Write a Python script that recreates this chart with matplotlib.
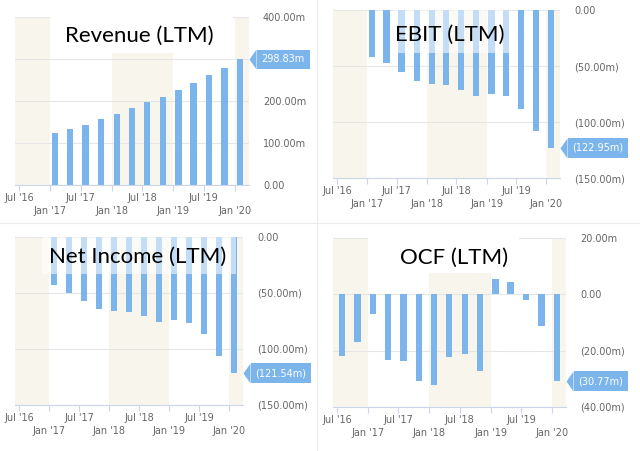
import matplotlib
matplotlib.use('Agg')
import matplotlib.pyplot as plt
import matplotlib.dates as mdates
from matplotlib.lines import Line2D
from matplotlib.patches import Rectangle
import pandas as pd

# fiscal quarter ends (FY ends Jan 31)
quarters = pd.to_datetime([
    '2016-07-31', '2016-10-31', '2017-01-31', '2017-04-30', '2017-07-31',
    '2017-10-31', '2018-01-31', '2018-04-30', '2018-07-31', '2018-10-31',
    '2019-01-31', '2019-04-30', '2019-07-31', '2019-10-31', '2020-01-31'])

revenue = [122.8, 133.0, 143.4, 156.0, 168.7, 183.8, 198.0, 210.0, 227.3,
           244.0, 262.0, 279.0, 298.83]
ebit = [-41.7, -47.7, -55.8, -63.0, -66.0, -67.4, -71.0, -76.6, -74.8,
        -77.2, -88.3, -108.0, -122.95]
net_income = [-43.0, -49.9, -57.0, -64.2, -66.5, -67.4, -70.4, -76.0, -74.3,
              -76.7, -86.2, -106.6, -121.54]
ocf = [-21.9, -16.9, -7.1, -23.2, -23.5, -30.7, -32.1, -22.3, -21.1, -27.3,
       5.4, 4.5, -1.9, -11.2, -30.77]

rev_ticks = [0, 100, 200, 300, 400]
neg_ticks = [0, -50, -100, -150]
ocf_ticks = [20, 0, -20, -40]

BAR = '#7cb5ec'
BAND = '#f8f6ec'
GRID = '#e6e6e6'
AXIS = '#ccd6eb'
LABEL = '#666666'

W, H = 640, 451
fig = plt.figure(figsize=(W / 100, H / 100), dpi=100)


def px_axes(l, t, r, b):
    return fig.add_axes([l / W, 1 - b / H, (r - l) / W, (b - t) / H])


def fmt_m(v):
    if abs(v) < 1e-9:
        return '0.00'
    if v < 0:
        return '(%.2fm)' % -v
    return '%.2fm' % v


def panel(ax, values, yticks, title, box, box_alpha, title_xy):
    dates = quarters[-len(values):]
    x0 = pd.Timestamp('2016-06-07')
    x1 = pd.Timestamp('2020-03-25')
    ax.set_xlim(x0, x1)
    ax.set_ylim(min(yticks), max(yticks))

    # alternating year bands
    for a, b in [(x0, pd.Timestamp('2017-01-01')),
                 (pd.Timestamp('2018-01-01'), pd.Timestamp('2019-01-01')),
                 (pd.Timestamp('2020-01-01'), x1)]:
        ax.axvspan(a, b, color=BAND, lw=0, zorder=0.2)

    ax.bar(dates, values, width=38, color=BAR, zorder=2)

    ax.set_axisbelow(True)
    ax.yaxis.grid(True, color=GRID, lw=0.8)
    for s in ['top', 'left', 'right']:
        ax.spines[s].set_visible(False)
    ax.spines['bottom'].set_color(AXIS)
    ax.spines['bottom'].set_linewidth(0.8)

    ax.xaxis.set_major_locator(mdates.MonthLocator(bymonth=7))
    ax.xaxis.set_minor_locator(mdates.MonthLocator(bymonth=1))
    ax.xaxis.set_major_formatter(mdates.DateFormatter("%b '%y"))
    ax.xaxis.set_minor_formatter(mdates.DateFormatter("%b '%y"))
    ax.tick_params(axis='x', which='both', length=4.3, width=0.8, color=AXIS,
                   labelsize=7, labelcolor=LABEL)
    ax.tick_params(axis='x', which='major', pad=1.5)
    ax.tick_params(axis='x', which='minor', pad=11)

    last = values[-1]
    span = max(yticks) - min(yticks)
    ax.yaxis.tick_right()
    ax.set_yticks(yticks)
    ax.set_yticklabels(['' if abs(t - last) < 0.06 * span else fmt_m(t)
                        for t in yticks])
    ax.tick_params(axis='y', length=0, pad=10, labelsize=7, labelcolor=LABEL)

    # flag with the latest value
    trans = ax.get_yaxis_transform()
    ax.plot([1.0], [last], transform=trans, marker=[(0, 0), (0.7, 1), (0.7, -1)],
            ms=14.4, color=BAR, mec='none', clip_on=False, zorder=5)
    ax.annotate(fmt_m(last), xy=(1.0, last), xycoords=trans, xytext=(9, 0),
                textcoords='offset points', ha='left', va='center',
                fontsize=7, color='white', annotation_clip=False, zorder=5,
                bbox=dict(boxstyle='square,pad=0.5', fc=BAR, ec='none'))

    # title overlay
    bx0, by0, bx1, by1 = box
    ax.add_patch(Rectangle((bx0, by0), bx1 - bx0, by1 - by0, transform=ax.transAxes,
                           fc='white', ec='none', alpha=box_alpha, zorder=3))
    ax.text(title_xy[0], title_xy[1], title, transform=ax.transAxes,
            ha='center', va='center', fontsize=16, family='Lato', zorder=4)


ax1 = px_axes(15, 17, 249, 185)
panel(ax1, revenue, rev_ticks, 'Revenue (LTM)', (0.15, 0.786, 0.93, 1.0), 1.0,
      (0.53, 0.89))

ax2 = px_axes(333, 10, 560, 178)
panel(ax2, ebit, neg_ticks, 'EBIT (LTM)', (0.27, 0.744, 0.78, 1.0), 0.55,
      (0.515, 0.85))

ax3 = px_axes(15, 237, 243, 405)
panel(ax3, net_income, neg_ticks, 'Net Income (LTM)', (0.12, 0.78, 0.97, 1.0), 0.55,
      (0.54, 0.88))

ax4 = px_axes(333, 238, 566, 407)
panel(ax4, ocf, ocf_ticks, 'OCF (LTM)', (0.15, 0.79, 0.80, 1.0), 1.0,
      (0.52, 0.88))

# faint screenshot separators
fig.add_artist(Line2D([317 / W, 317 / W], [0, 1], color='#ececec', lw=0.8))
fig.add_artist(Line2D([0, 1], [1 - 223 / H, 1 - 223 / H], color='#ececec', lw=0.8))

fig.savefig('out.png', dpi=100, facecolor='white')
